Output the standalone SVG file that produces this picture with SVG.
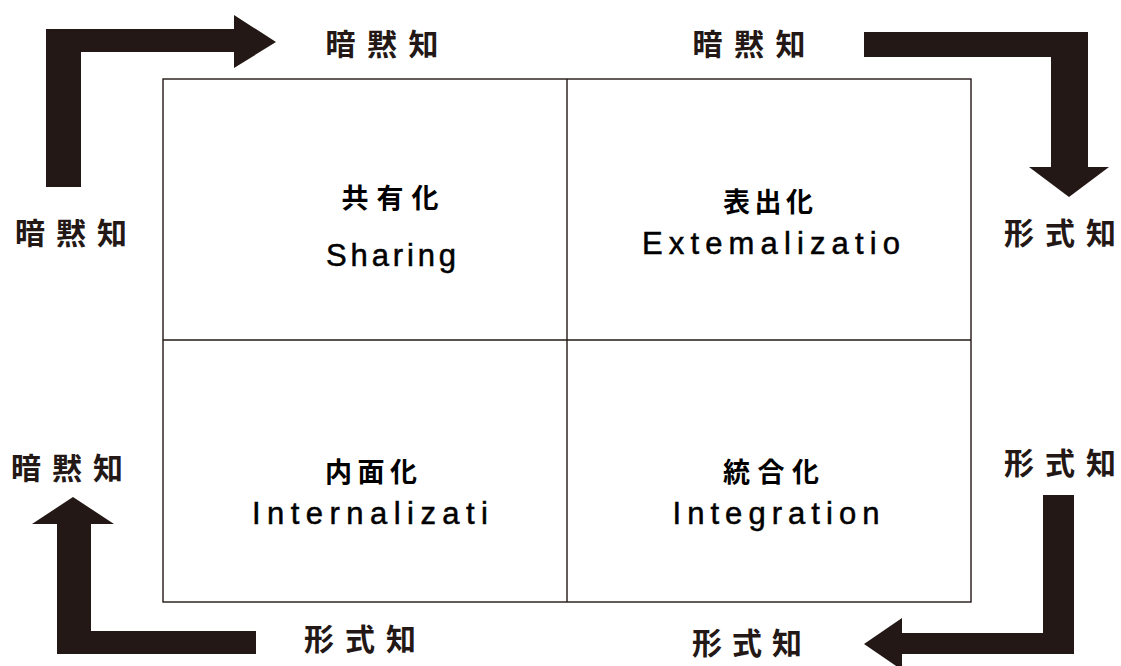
<svg xmlns="http://www.w3.org/2000/svg" width="1121" height="666" viewBox="0 0 1121 666">
<style>
.arrow{fill:#231815;stroke:none}
.box{fill:none;stroke:#231815;stroke-width:1.4}
.jp{font-family:"Noto Sans CJK JP","Noto Sans CJK SC",sans-serif;font-weight:bold;fill:#231815;text-anchor:middle}
.out{font-size:30px}
.qj{font-size:27px;fill:#000}
.en{font-family:"Liberation Sans Narrow","Liberation Sans",Arial,sans-serif;font-size:31px;fill:#000;text-anchor:middle;stroke:#000;stroke-width:0.5}
</style>
<rect width="1121" height="666" fill="#fff"/>
<g id="connectors">
<polygon class="arrow" points="46,187 46,29 234,29 234,15 276,42 234,68 234,52 81,52 81,187"/>
<polygon class="arrow" points="864,32 1088,32 1088,167 1109,167 1069,197 1029,167 1051,167 1051,57 864,57"/>
<polygon class="arrow" points="57,654 57,524 32,524 73,497 114,524 91,524 91,631 256,631 256,654"/>
<polygon class="arrow" points="1074,495 1074,654 902,654 902,670 864,644 902,618 902,633 1043,633 1043,495"/>
</g>
<g id="matrix">
<rect class="box" x="163" y="79" width="808" height="523"/>
<line class="box" x1="567" y1="79" x2="567" y2="602"/>
<line class="box" x1="163" y1="340" x2="971" y2="340"/>
</g>
<g id="q-sharing">
<text class="jp qj" x="390" y="208" textLength="97" lengthAdjust="spacing">共有化</text>
<text class="en" x="391" y="266" textLength="130" lengthAdjust="spacing">Sharing</text>
</g>
<g id="q-externalization">
<text class="jp qj" x="768" y="212" textLength="90" lengthAdjust="spacing">表出化</text>
<text class="en" x="771" y="254" textLength="258" lengthAdjust="spacing">Extemalizatio</text>
</g>
<g id="q-internalization">
<text class="jp qj" x="371" y="482" textLength="92" lengthAdjust="spacing">内面化</text>
<text class="en" x="370" y="524" textLength="236" lengthAdjust="spacing">Internalizati</text>
</g>
<g id="q-integration">
<text class="jp qj" x="771" y="482" textLength="96" lengthAdjust="spacing">統合化</text>
<text class="en" x="776" y="524" textLength="207" lengthAdjust="spacing">Integration</text>
</g>
<g id="labels">
<text class="jp out" x="382" y="55" textLength="113" lengthAdjust="spacing">暗黙知</text>
<text class="jp out" x="749" y="55" textLength="113" lengthAdjust="spacing">暗黙知</text>
<text class="jp out" x="71" y="244" textLength="112" lengthAdjust="spacing">暗黙知</text>
<text class="jp out" x="1060" y="244" textLength="112" lengthAdjust="spacing">形式知</text>
<text class="jp out" x="67" y="479" textLength="112" lengthAdjust="spacing">暗黙知</text>
<text class="jp out" x="1060" y="474" textLength="112" lengthAdjust="spacing">形式知</text>
<text class="jp out" x="360" y="650" textLength="112" lengthAdjust="spacing">形式知</text>
<text class="jp out" x="747" y="654" textLength="110" lengthAdjust="spacing">形式知</text>
</g>
</svg>
